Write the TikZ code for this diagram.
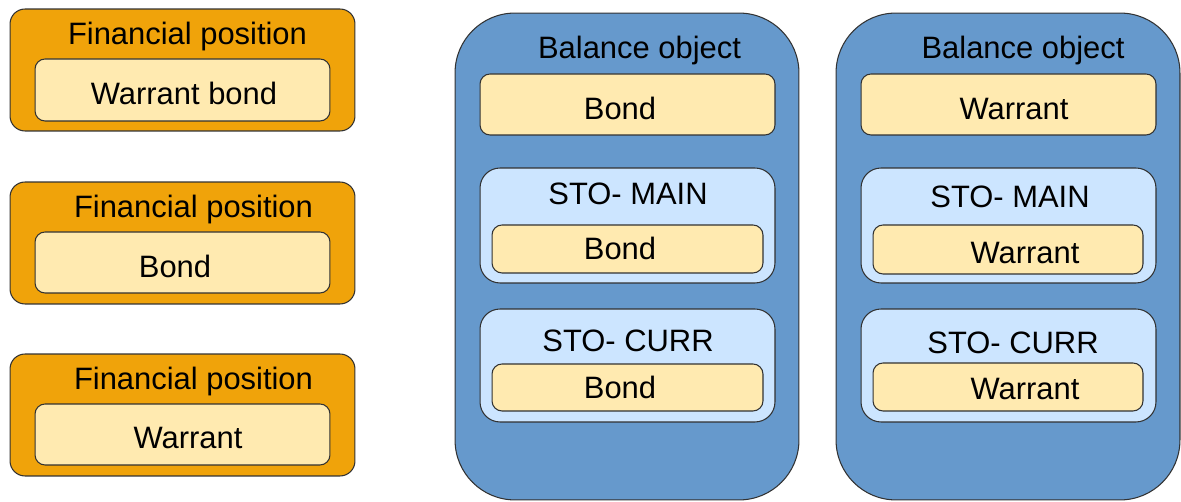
\documentclass[tikz,border=0pt]{standalone}
\usepackage{fontspec}
\setmainfont{Liberation Sans}
\usepackage{xcolor}
\usepackage{tikz}
\definecolor{posorange}{RGB}{240,163,10}
\definecolor{itemcream}{RGB}{255,234,176}
\definecolor{objblue}{RGB}{102,153,204}
\definecolor{stoblue}{RGB}{204,229,255}
\definecolor{edgegray}{RGB}{50,50,50}

\begin{document}
\begin{tikzpicture}[x=0.02cm,y=-0.02cm,
  box/.style={draw=edgegray,line width=0.6pt,inner sep=0pt},
  finpos/.style={box,fill=posorange,rounded corners=0.3cm,minimum width=6.9cm,minimum height=2.44cm},
  balobj/.style={box,fill=objblue,rounded corners=1.2cm,minimum width=6.88cm,minimum height=9.74cm},
  stobox/.style={box,fill=stoblue,rounded corners=0.4cm,minimum width=5.9cm},
  item/.style={box,fill=itemcream,rounded corners=0.2cm},
  txt/.style={inner sep=0pt,text height=0.72em,text depth=0pt,yshift=-0.08cm,font=\fontsize{17.6}{20}\selectfont}]
  \useasboundingbox (0,0) rectangle (1181,502);
  % financial positions
  \node[finpos] (fp1) at (182.5,70) {};
  \node[item,minimum width=5.9cm,minimum height=1.24cm] (fp1i) at (182.5,90) {};
  \node[txt] (fp1t) at (187.5,34) {Financial position};
  \node[txt] (fp1l) at (184,94) {Warrant bond};
  \node[finpos] (fp2) at (182.5,243) {};
  \node[item,minimum width=5.9cm,minimum height=1.22cm] (fp2i) at (182.5,262.5) {};
  \node[txt] (fp2t) at (193.5,207) {Financial position};
  \node[txt] (fp2l) at (175,267) {Bond};
  \node[finpos] (fp3) at (182.5,415) {};
  \node[item,minimum width=5.9cm,minimum height=1.22cm] (fp3i) at (182.5,434.5) {};
  \node[txt] (fp3t) at (193.5,379) {Financial position};
  \node[txt] (fp3l) at (188,438) {Warrant};
  % balance object: bond
  \node[balobj] (bo1) at (627,256.5) {};
  \node[txt] (bo1t) at (639.5,48) {Balance object};
  \node[item,minimum width=5.9cm,minimum height=1.22cm] (bo1i) at (627.5,104.5) {};
  \node[txt] (bo1l) at (620,109) {Bond};
  \node[stobox,minimum height=2.3cm] (bo1m) at (627.5,225.5) {};
  \node[txt] (bo1mt) at (628,194) {STO- MAIN};
  \node[item,minimum width=5.42cm,minimum height=0.96cm] (bo1mi) at (627.5,249) {};
  \node[txt] (bo1ml) at (620,249) {Bond};
  \node[stobox,minimum height=2.26cm] (bo1c) at (627.5,365.5) {};
  \node[txt] (bo1ct) at (628,341) {STO- CURR};
  \node[item,minimum width=5.42cm,minimum height=0.94cm] (bo1ci) at (627.5,387.5) {};
  \node[txt] (bo1cl) at (620,388) {Bond};
  % balance object: warrant
  \node[balobj] (bo2) at (1008,256.5) {};
  \node[txt] (bo2t) at (1023,48) {Balance object};
  \node[item,minimum width=5.9cm,minimum height=1.22cm] (bo2i) at (1008.5,104.5) {};
  \node[txt] (bo2l) at (1014,109) {Warrant};
  \node[stobox,minimum height=2.3cm] (bo2m) at (1008.5,225.5) {};
  \node[txt] (bo2mt) at (1010,197) {STO- MAIN};
  \node[item,minimum width=5.4cm,minimum height=0.98cm] (bo2mi) at (1008,249.5) {};
  \node[txt] (bo2ml) at (1025,253) {Warrant};
  \node[stobox,minimum height=2.26cm] (bo2c) at (1008.5,365.5) {};
  \node[txt] (bo2ct) at (1013,343) {STO- CURR};
  \node[item,minimum width=5.4cm,minimum height=0.96cm] (bo2ci) at (1008,387) {};
  \node[txt] (bo2cl) at (1025,389) {Warrant};
\end{tikzpicture}
\end{document}
